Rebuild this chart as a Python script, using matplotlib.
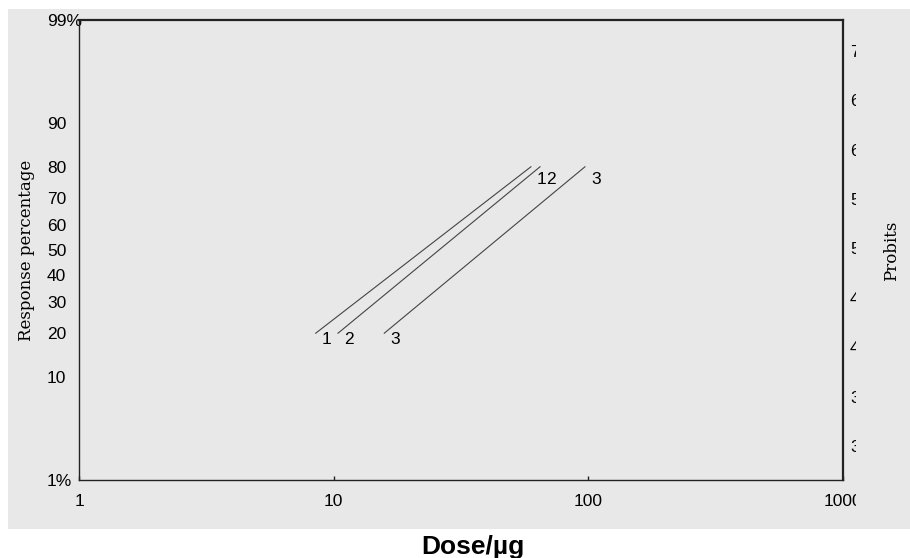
# -*- coding: utf-8 -*-
# 用量反応（プロビット）プロット

import numpy as np
import matplotlib as mpl
mpl.use('Agg')
import matplotlib.pyplot as plt
from matplotlib.patches import Rectangle
from matplotlib.transforms import Bbox, TransformedBbox
from statistics import NormalDist

# データ
curve_names = ['1', '2', '3']
resp_pct = [20, 80]                 # 各直線の両端の反応率(%)
dose_low = [8.5, 10.4, 15.8]        # 20%での用量
dose_high = [59.5, 64.6, 97.0]      # 80%での用量

y_tick_pct = [1, 10, 20, 30, 40, 50, 60, 70, 80, 90, 99]
y_tick_txt = ['1%', '10', '20', '30', '40', '50', '60', '70', '80', '90', '99%']
probit_ticks = [7, 6.5, 6, 5.5, 5, 4.5, 4, 3.5, 3]
probit_txt = ['7', '6.5', '6', '5.5', '5', '4.5', '4', '3.5', '3']
x_ticks = [1, 10, 100, 1000]
x_tick_txt = ['1', '10', '100', '1000']

nd = NormalDist()
def probit(p):
    return 5 + nd.inv_cdf(p / 100.0)

W, H = 910, 558
bg = '#e8e8e8'
sans = 'Liberation Sans'
serif = 'DejaVu Serif'
fs = 12.5

fig = plt.figure(figsize=(W / 100, H / 100), dpi=100, facecolor='white')
# 灰色の背景枠
fig.patches.append(Rectangle((8 / W, 1 - 529 / H), 1 - 8 / W, (529 - 9) / H,
                             transform=fig.transFigure, facecolor=bg,
                             edgecolor='none', zorder=-10))

L, R, T, B = 79, 843, 20, 480
ax = fig.add_axes([L / W, 1 - B / H, (R - L) / W, (B - T) / H])
ax.set_facecolor(bg)
ax.set_xscale('log')
ax.set_xlim(1, 1000)
ax.set_ylim(probit(1), probit(99))

# 直線
for name, d0, d1 in zip(curve_names, dose_low, dose_high):
    ys = [probit(resp_pct[0]), probit(resp_pct[1])]
    ax.plot([d0, d1], ys, color='#444444', linewidth=0.8)
    ax.annotate(name, (d0, ys[0]), xytext=(6, 1), textcoords='offset pixels',
                ha='left', va='top', fontsize=fs, family=sans)
    ax.annotate(name, (d1, ys[1]), xytext=(6, -5), textcoords='offset pixels',
                ha='left', va='top', fontsize=fs, family=sans)

# 枠線
for s in ['top', 'right']:
    ax.spines[s].set_linewidth(1.6)
for s in ['left', 'bottom']:
    ax.spines[s].set_linewidth(1.0)
for s in ax.spines:
    ax.spines[s].set_color('#222222')

# 目盛り
ax.set_xticks(x_ticks)
ax.set_xticklabels([])
ax.xaxis.set_minor_locator(mpl.ticker.NullLocator())
ax.tick_params(axis='x', which='major', direction='in', length=3, width=1,
               colors='#222222')
ax.set_yticks([probit(p) for p in y_tick_pct])
ax.set_yticklabels(y_tick_txt, fontsize=fs, family=sans)
for lb in ax.get_yticklabels():
    lb.set_horizontalalignment('left')
ax.tick_params(axis='y', which='major', length=0, pad=23)

clip = TransformedBbox(Bbox.from_extents(0, 0, 856 / W, 1), fig.transFigure)

# x軸ラベル（1000 は右端で切れる）
for xv, tx in zip(x_ticks, x_tick_txt):
    t = ax.text(xv, -21 / (B - T), tx, transform=ax.get_xaxis_transform(),
                ha='center', va='center', fontsize=fs, family=sans)
    t.set_clip_on(True)
    t.set_clip_box(clip)
    t.set_clip_path(None)

# 右側プロビット目盛り（途中で切れる）
for pv, tx in zip(probit_ticks, probit_txt):
    t = ax.text(1 + 7 / (R - L), pv, tx, transform=ax.get_yaxis_transform(),
                ha='left', va='center', fontsize=fs, family=sans)
    t.set_clip_on(True)
    t.set_clip_box(clip)
    t.set_clip_path(None)

# 軸ラベル
fig.text(27 / W, 1 - 250 / H, 'Response percentage', rotation=90,
         ha='center', va='center', fontsize=12, family=serif)
fig.text(892 / W, 1 - 251 / H, 'Probits', rotation=90,
         ha='center', va='center', fontsize=12, family=serif)
fig.text(473 / W, 1 - 547 / H, 'Dose/\u00b5g', ha='center', va='center',
         fontsize=19, fontweight='bold', family=sans)

fig.savefig('out.png', dpi=100, facecolor='white')
